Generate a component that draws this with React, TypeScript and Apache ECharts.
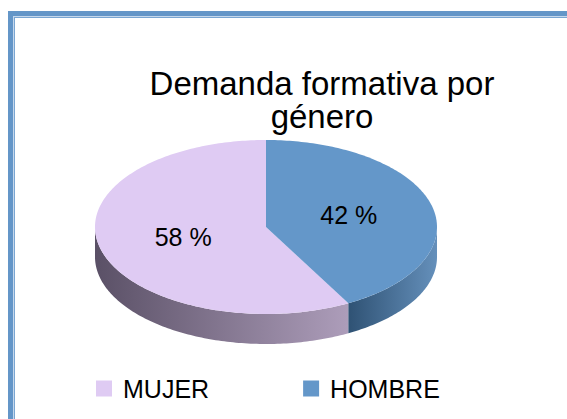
import React, { useEffect, useRef } from "react";
import * as echarts from "echarts";

const titleText = "Demanda formativa por\ngénero";
const categories = ["MUJER", "HOMBRE"];
const values = [58, 42];
// clockwise order of slices starting at 12 o'clock
const pieOrder = ["HOMBRE", "MUJER"];

const topColors: Record<string, string> = { MUJER: "#dfcbf3", HOMBRE: "#6497c9" };
const sideStops: Record<string, [string, string]> = {
  MUJER: ["#5a5066", "#ad9dba"],
  HOMBRE: ["#2f5274", "#6590bb"],
};

const CX = 266, CY = 227, RX = 171, RY = 87, DEPTH = 30;

function pt(a: number, dy = 0): number[] {
  return [CX + RX * Math.sin(a), CY - RY * Math.cos(a) + dy];
}

function arc(a0: number, a1: number, dy = 0): number[][] {
  const pts: number[][] = [];
  const n = Math.max(2, Math.ceil(Math.abs(a1 - a0) / (Math.PI / 180)));
  for (let i = 0; i <= n; i++) pts.push(pt(a0 + ((a1 - a0) * i) / n, dy));
  return pts;
}

function sliceAngles(name: string): [number, number] {
  const total = values.reduce((s, v) => s + v, 0);
  let acc = 0;
  for (const n of pieOrder) {
    const v = values[categories.indexOf(n)];
    if (n === name) return [(acc / total) * 2 * Math.PI, ((acc + v) / total) * 2 * Math.PI];
    acc += v;
  }
  return [0, 0];
}

function makeRenderItem(name: string) {
  return (_params: any, _api: any) => {
    const [a0, a1] = sliceAngles(name);
    const children: any[] = [];
    // visible front wall: angles between 90° and 270°
    const s = Math.max(a0, Math.PI / 2);
    const e = Math.min(a1, (3 * Math.PI) / 2);
    if (e > s) {
      const top = arc(s, e, 0);
      const bot = arc(s, e, DEPTH).reverse();
      const stops = sideStops[name];
      children.push({
        type: "polygon",
        shape: { points: top.concat(bot) },
        style: {
          fill: {
            type: "linear", x: 0, y: 0, x2: 1, y2: 0,
            colorStops: [
              { offset: 0, color: stops[0] },
              { offset: 1, color: stops[1] },
            ],
          },
          stroke: null,
        },
      });
    }
    const topPts = [[CX, CY]].concat(arc(a0, a1, 0));
    children.push({
      type: "polygon",
      shape: { points: topPts },
      style: { fill: topColors[name], stroke: null },
    });
    const mid = (a0 + a1) / 2;
    const lp = [CX + RX * 0.5 * Math.sin(mid), CY - RY * 0.5 * Math.cos(mid)];
    const v = values[categories.indexOf(name)];
    children.push({
      type: "text",
      x: lp[0], y: lp[1] - 1,
      style: {
        text: v + " %",
        fill: "#000",
        font: "25px 'Liberation Sans', Arial, sans-serif",
        align: "center",
        verticalAlign: "middle",
      },
    });
    return { type: "group", children };
  };
}

export default function App() {
  const ref = useRef<HTMLDivElement>(null);
  useEffect(() => {
    document.body.style.margin = "0";
    const chart = echarts.init(ref.current!, null, { renderer: "svg" });
    chart.setOption({
      animation: false,
      backgroundColor: "#ffffff",
      title: {
        text: titleText,
        left: 317,
        top: 62,
        padding: 5,
        textAlign: "center",
        textStyle: {
          fontFamily: "'Liberation Sans', Arial, sans-serif",
          fontSize: 33,
          fontWeight: "normal",
          color: "#000",
          lineHeight: 33,
        },
      },
      legend: {
        data: categories.map((c) => ({ name: c, itemStyle: { color: topColors[c] } })),
        left: 91,
        top: 371,
        icon: "rect",
        itemWidth: 16,
        itemHeight: 16,
        itemGap: 94,
        textStyle: {
          fontFamily: "'Liberation Sans', Arial, sans-serif",
          fontSize: 25,
          color: "#000",
          padding: [0, 0, 0, 6],
        },
      },
      graphic: [
        { type: "rect", shape: { x: 8, y: 11, width: 600, height: 5 }, style: { fill: "#6496c8" } },
        { type: "rect", shape: { x: 8, y: 11, width: 5, height: 420 }, style: { fill: "#6496c8" } },
        { type: "line", shape: { x1: 13, y1: 16.5, x2: 600, y2: 16.5 }, style: { stroke: "#c6d8ec", lineWidth: 1 } },
        { type: "line", shape: { x1: 13.5, y1: 16, x2: 13.5, y2: 420 }, style: { stroke: "#c6d8ec", lineWidth: 1 } },
        { type: "line", shape: { x1: 14, y1: 17.5, x2: 600, y2: 17.5 }, style: { stroke: "#7aa6d2", lineWidth: 1 } },
        { type: "line", shape: { x1: 14.5, y1: 17, x2: 14.5, y2: 420 }, style: { stroke: "#7aa6d2", lineWidth: 1 } },
      ],
      series: categories.map((c) => ({
        type: "custom",
        name: c,
        coordinateSystem: "none",
        itemStyle: { color: topColors[c] },
        data: [values[categories.indexOf(c)]],
        renderItem: makeRenderItem(c),
      })),
    });
    return () => chart.dispose();
  }, []);
  return <div ref={ref} style={{ position: "absolute", left: 0, top: 0, width: 567, height: 419 }} />;
}
